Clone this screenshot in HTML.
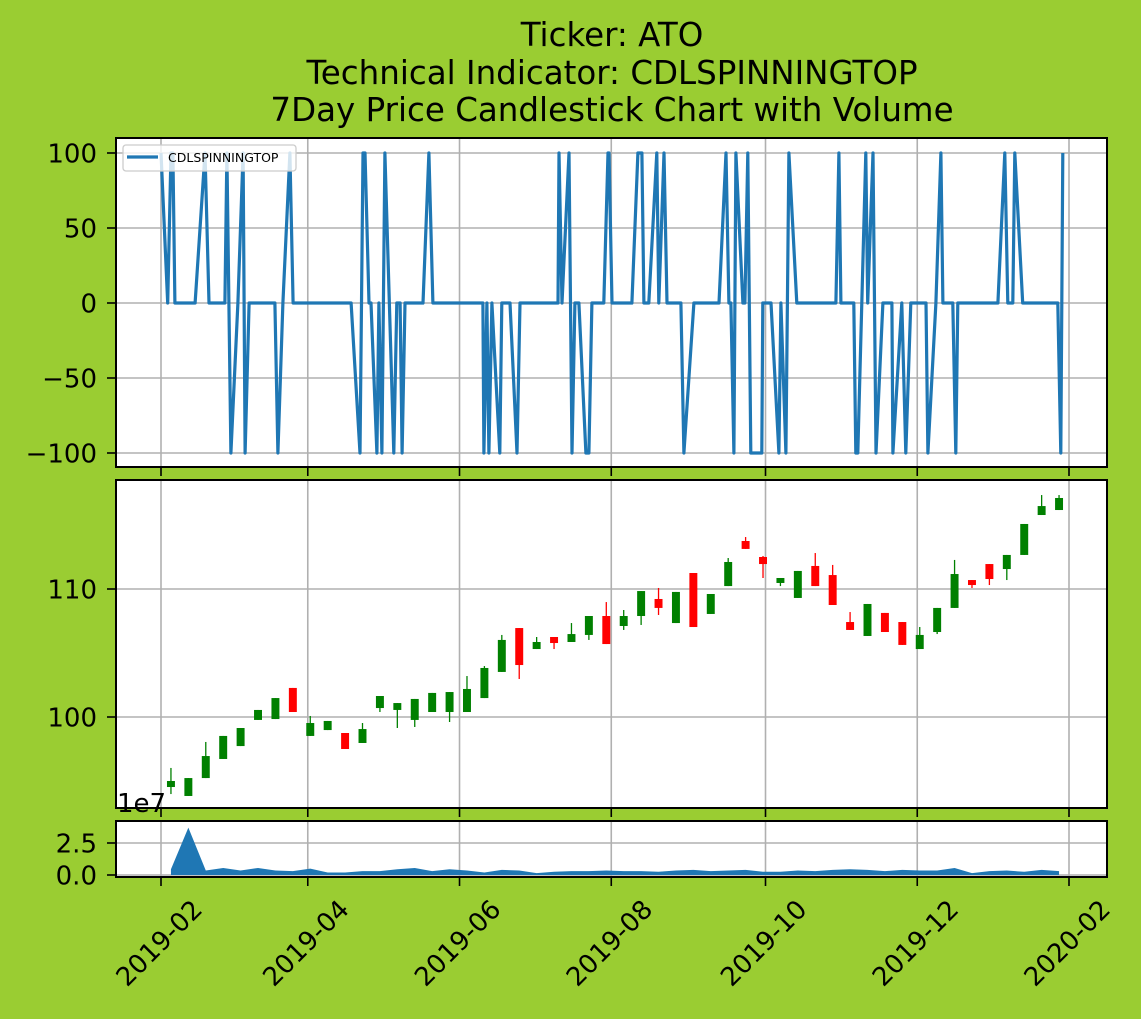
<!DOCTYPE html>
<html><head><meta charset="utf-8"><style>
html,body{margin:0;padding:0;background:#9acd32;}
svg{display:block;font-family:"DejaVu Sans","Liberation Sans",sans-serif;}
</style></head><body>
<svg id="chart" width="1141" height="1019" viewBox="0 0 1141 1019">
<rect x="0" y="0" width="1141" height="1019" fill="#9acd32"/>
<g font-size="32.5" text-anchor="middle" fill="#000">
<text x="612" y="46">Ticker: ATO</text>
<text x="612" y="84">Technical Indicator: CDLSPINNINGTOP</text>
<text x="612" y="121">7Day Price Candlestick Chart with Volume</text>
</g>
<g id="ind"></g>
<g id="price"></g>
<g id="vol"></g>
<g id="xaxis"></g>
</svg>
<script>
// ---- data ----
const indDays=[0,2.7,4.0,4.8,5.6,13.7,17.7,19.3,25.7,26.5,28.1,30.9,33.0,33.8,35.4,45.8,47.0,49.0,51.8,53.1,76.4,80.0,81.2,82.0,83.6,84.4,86.8,87.6,88.8,90.0,93.6,94.8,96.1,96.9,98.1,105.3,107.7,109.3,129.4,129.8,131.0,131.8,133.0,136.2,137.0,140.3,143.1,144.3,159.6,160.0,161.2,164.0,165.2,166.4,168.0,170.8,172.0,173.2,178.0,179.7,180.1,181.3,189.3,191.7,193.3,194.1,196.1,199.3,200.1,202.2,203.4,209.0,210.2,214.2,224.3,227.1,228.3,229.1,230.3,231.1,233.9,234.7,235.9,237.1,241.5,241.9,245.2,248.4,249.2,251.2,252.4,255.6,271.3,272.5,273.3,278.5,279.3,280.1,283.3,284.1,286.2,287.4,290.2,293.8,294.2,297.8,299.4,301.4,307.5,308.3,311.5,313.5,314.3,318.3,319.5,320.3,336.4,339.2,340.4,342.4,343.2,346.4,360.5,361.7,362.5];
const indVals=[100,0,100,100,0,0,100,0,0,100,-100,0,100,-100,0,0,-100,0,100,0,0,-100,100,100,0,0,-100,0,-100,100,-100,0,0,-100,0,0,100,0,0,-100,0,-100,0,-100,0,0,-100,0,0,100,0,100,-100,0,0,-100,-100,0,0,100,100,0,0,100,100,0,0,100,0,100,0,0,-100,0,0,100,0,0,-100,100,0,0,100,-100,-100,0,0,-100,0,-100,100,0,0,100,0,0,-100,-100,100,0,100,-100,0,0,-100,0,-100,0,0,-100,0,100,0,0,-100,0,0,100,0,0,100,0,0,-100,100];
const candleStartDay=4, candleStepDays=7;
const opens=[94.53,93.83,95.23,96.72,97.73,99.77,99.84,102.27,98.52,98.98,98.75,97.97,100.70,100.55,99.77,100.39,100.39,100.39,101.48,103.52,106.95,105.31,106.25,105.86,106.41,107.89,107.11,107.89,109.22,107.34,111.25,108.05,110.23,113.75,112.5,110.47,109.3,111.8,111.09,107.42,106.33,108.13,107.42,105.31,106.64,108.52,110.70,111.95,111.56,112.66,115.78,116.17];
const closes=[95.00,95.23,96.95,98.52,99.14,100.55,101.48,100.39,99.53,99.69,97.5,99.06,101.64,101.09,101.41,101.88,101.95,102.19,103.83,106.02,104.06,105.86,105.78,106.48,107.89,105.70,107.89,109.84,108.52,109.77,107.03,109.61,112.11,113.13,111.95,110.86,111.41,110.23,108.75,106.8,108.83,106.64,105.63,106.41,108.52,111.17,110.31,110.78,112.66,115.08,116.48,117.11];
const highs=[96.02,95.23,98.05,98.52,99.14,100.55,101.48,102.27,100.08,99.69,98.75,99.53,101.64,101.09,101.41,101.88,101.95,103.2,103.98,106.41,106.95,106.25,106.25,107.34,107.89,108.98,108.36,109.84,110.08,109.77,111.25,109.61,112.42,114.06,112.58,110.86,111.41,112.81,111.88,108.2,108.83,108.13,107.42,107.03,108.52,112.27,110.70,111.95,112.66,115.08,117.34,117.34];
const lows=[93.98,93.83,95.23,96.72,97.73,99.77,99.84,100.39,98.52,98.98,97.5,97.97,100.39,99.14,99.22,100.39,99.61,100.39,101.48,103.52,102.97,105.31,105.31,105.86,106.02,105.70,106.8,107.19,107.97,107.34,107.03,108.05,110.23,113.13,110.86,110.23,109.3,110.23,108.75,106.8,106.33,106.64,105.63,105.31,106.48,108.52,110.08,110.31,110.70,112.66,115.78,116.17];
const volumes=[0.45,3.7,0.35,0.55,0.35,0.55,0.35,0.3,0.5,0.2,0.2,0.3,0.3,0.45,0.55,0.3,0.45,0.35,0.2,0.4,0.35,0.15,0.25,0.3,0.3,0.35,0.3,0.3,0.25,0.35,0.4,0.3,0.35,0.4,0.25,0.25,0.35,0.3,0.4,0.45,0.4,0.3,0.4,0.35,0.35,0.55,0.15,0.3,0.35,0.25,0.4,0.3];
const xTickDays=[0,59,120,181,243,304,365];
const xTickLabels=["2019-02","2019-04","2019-06","2019-08","2019-10","2019-12","2020-02"];
const indTicks=[100,50,0,-50,-100];
const indTickLabels=["100","50","0","\u221250","\u2212100"];
const priceTicks=[110,100];
const priceTickLabels=["110","100"];
const volTicks=[2.5,0];
const volTickLabels=["2.5","0.0"];

// ---- axes ----
const NS="http://www.w3.org/2000/svg";
const L=116,R=1107;
const xS=d=>161+d*(908/365);
const yInd=v=>303-v*1.5;
const yPr=v=>589-(v-110)*12.8;
const yVol=v=>875-v*12.8;
function mk(tag,attrs,parent){const e=document.createElementNS(NS,tag);for(const k in attrs)e.setAttribute(k,attrs[k]);parent.appendChild(e);return e;}
const ind=document.getElementById('ind'),price=document.getElementById('price'),vol=document.getElementById('vol'),xa=document.getElementById('xaxis');
const panels=[[ind,138,467],[price,480,808],[vol,821,877]];
panels.forEach(([g,t,b])=>{
  const bg=mk('rect',{x:L,y:t,width:R-L,height:b-t,fill:'#fff'},g);
  
  
  xTickDays.forEach(d=>{const l=mk('line',{x1:xS(d),x2:xS(d),y1:t,y2:b,stroke:'#b0b0b0','stroke-width':1.6},g);
    
    const tk=mk('line',{x1:xS(d),x2:xS(d),y1:b,y2:b+9,stroke:'#000','stroke-width':1.6},g);
    });
});
function yaxis(g,ticks,labels,f){
  ticks.forEach((v,i)=>{const y=f(v);
    const gl=mk('line',{x1:L,x2:R,y1:y,y2:y,stroke:'#b0b0b0','stroke-width':1.6},g);
    
    const tk=mk('line',{x1:L-9,x2:L,y1:y,y2:y,stroke:'#000','stroke-width':1.6},g);
    
    const tx=mk('text',{x:L-19,y:y+9.5,'text-anchor':'end','font-size':26},g);tx.textContent=labels[i];
    });
}
yaxis(ind,indTicks,indTickLabels,yInd);
yaxis(price,priceTicks,priceTickLabels,yPr);
yaxis(vol,volTicks,volTickLabels,yVol);

// indicator line
const pts=indDays.map((d,i)=>xS(d).toFixed(1)+','+yInd(indVals[i]).toFixed(1)).join(' ');
const pl=mk('polyline',{points:pts,fill:'none',stroke:'#1f77b4','stroke-width':3.2,'stroke-linejoin':'round'},ind);


// legend
const lg=mk('g',{},ind);


mk('rect',{x:123,y:145,width:173,height:26,rx:3,fill:'#fff','fill-opacity':0.8,stroke:'#ccc','stroke-width':1.3},lg);
mk('line',{x1:127,x2:158,y1:157,y2:157,stroke:'#1f77b4','stroke-width':3.2},lg);
const lt=mk('text',{x:168,y:162,'font-size':12.5},lg);lt.textContent='CDLSPINNINGTOP';



// candles
const bw=3.2*(908/365);
opens.forEach((o,i)=>{
  const d=candleStartDay+i*candleStepDays,x=xS(d),c=closes[i];
  const col=c>=o?'#008000':'#ff0000';
  const g=mk('g',{},price);
  
  
  mk('line',{x1:x,x2:x,y1:yPr(highs[i]),y2:yPr(lows[i]),stroke:col,'stroke-width':1.3},g);
  const top=yPr(Math.max(o,c)),bot=yPr(Math.min(o,c));
  mk('rect',{x:x-bw/2,y:top,width:bw,height:Math.max(bot-top,1),fill:col},g);
});

// volume area
let vp=[xS(candleStartDay)+','+yVol(0)];
volumes.forEach((v,i)=>vp.push(xS(candleStartDay+i*candleStepDays)+','+yVol(v)));
vp.push(xS(candleStartDay+(volumes.length-1)*candleStepDays)+','+yVol(0));
const va=mk('polygon',{points:vp.join(' '),fill:'#1f77b4'},vol);


const oe=mk('text',{x:117,y:812,'font-size':26},vol);oe.textContent='1e7';



// frames
panels.forEach(([g,t,b])=>{const f=mk('rect',{x:L,y:t,width:R-L,height:b-t,fill:'none',stroke:'#000','stroke-width':2},g);
  });

// x labels
xTickDays.forEach((d,i)=>{const x=xS(d)-2,y=943;
  const t=mk('text',{x:x,y:y+9,'text-anchor':'middle','font-size':26,transform:`rotate(-45 ${x} ${y})`},xa);
  t.textContent=xTickLabels[i];
  
  });
</script>
</body></html>
